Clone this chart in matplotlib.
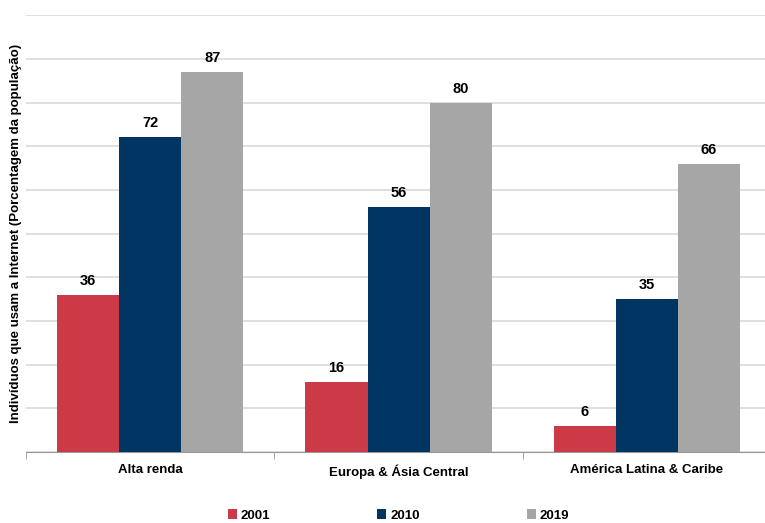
import matplotlib.pyplot as plt
import numpy as np

plt.rcParams['font.family'] = ['Liberation Sans', 'DejaVu Sans']

categories = ["Alta renda", "Europa & Ásia Central", "América Latina & Caribe"]
years = ["2001", "2010", "2019"]
values_2001 = [36, 16, 6]
values_2010 = [72, 56, 35]
values_2019 = [87, 80, 66]
colors = ["#CC3A47", "#003562", "#A6A6A6"]

fig = plt.figure(figsize=(7.65, 5.23), dpi=100)
ax = fig.add_axes([0.034, 0.136, 0.974, 0.835])

x = np.arange(len(categories))
width = 0.25
series = [values_2001, values_2010, values_2019]

for i, (vals, year, col) in enumerate(zip(series, years, colors)):
    bars = ax.bar(x + (i - 1) * width, vals, width, color=col, label=year, zorder=3)
    for b, v in zip(bars, vals):
        ax.annotate(str(v), (b.get_x() + b.get_width() / 2, v),
                    xytext=(0, 5), textcoords="offset points",
                    ha="center", va="bottom", fontsize=10.5, fontweight="bold")

ax.set_xlim(-0.5, 2.5)
ax.set_ylim(0, 100)
ax.set_yticks(np.arange(0, 101, 10))
ax.yaxis.grid(True, color="#d9d9d9", linewidth=1.2, zorder=0)
ax.tick_params(axis="y", length=0, labelleft=False)

# category labels centred, tick marks at group boundaries
ax.set_xticks(x)
ax.set_xticklabels(categories, fontsize=9.5, fontweight="bold")
ax.tick_params(axis="x", which="major", length=0, pad=9)
ax.set_xticks([-0.5, 0.5, 1.5, 2.5], minor=True)
ax.tick_params(axis="x", which="minor", length=5, color="#999999")

for s in ["top", "right", "left"]:
    ax.spines[s].set_visible(False)
ax.spines["bottom"].set_color("#999999")

ax.set_ylabel("Indivíduos que usam a Internet (Porcentagem da população)",
              fontsize=9.5, fontweight="bold", labelpad=3)

fig.legend(loc="lower center", bbox_to_anchor=(0.521, -0.02), ncol=3,
           frameon=False, handlelength=0.7, handleheight=0.7,
           handletextpad=0.3, columnspacing=8.1,
           prop={"weight": "bold", "size": 9.5})

fig.savefig("out.png", dpi=100)
